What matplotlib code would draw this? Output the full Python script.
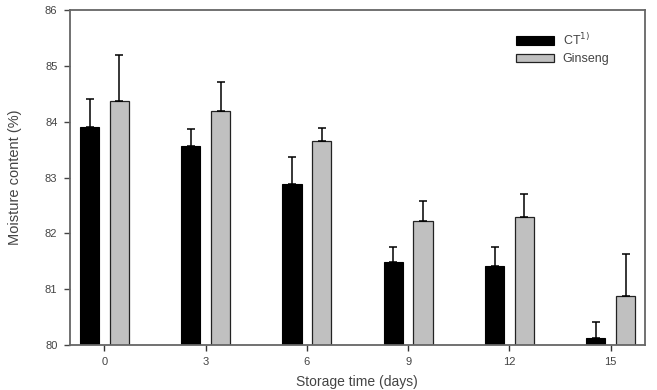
import matplotlib.pyplot as plt
import numpy as np

plt.rcParams['font.family'] = ['Liberation Sans', 'DejaVu Sans']

days = ['0', '3', '6', '9', '12', '15']
ct_mean = [83.90, 83.57, 82.88, 81.48, 81.42, 80.12]
ct_err = [0.50, 0.30, 0.48, 0.28, 0.34, 0.30]
gin_mean = [84.38, 84.20, 83.65, 82.22, 82.30, 80.87]
gin_err = [0.82, 0.52, 0.23, 0.36, 0.40, 0.76]

fig = plt.figure(figsize=(6.57, 3.9), dpi=100)
ax = fig.add_axes([0.1065, 0.1154, 0.8755, 0.8586])

x = np.arange(len(days))
w = 0.19
off = 0.147
ekw = dict(capsize=2.8, elinewidth=1.1, capthick=1.1, ecolor='black')
ax.bar(x - off, ct_mean, w, color='black', edgecolor='black', lw=0.8,
       yerr=[np.zeros(6), ct_err], error_kw=ekw, label='CT$^{1)}$')
ax.bar(x + off, gin_mean, w, color='#c0c0c0', edgecolor='#222222', lw=0.9,
       yerr=[np.zeros(6), gin_err], error_kw=ekw, label='Ginseng')

ax.set_ylim(80, 86)
ax.set_xlim(-0.34, 5.34)
ax.set_xticks(x)
ax.set_xticklabels(days)
ax.set_yticks(range(80, 87))

tc = '#444444'
for s in ax.spines.values():
    s.set_color('#666666')
    s.set_linewidth(1.3)
ax.tick_params(colors=tc, labelsize=8, length=4, width=1, direction='out', pad=5)
ax.tick_params(axis='x', color='#333333')

ax.set_ylabel('Moisture content (%)', fontsize=10.5, color=tc)
ax.yaxis.set_label_coords(-0.083, 0.5)
fig.text(0.543, 0.003, 'Storage time (days)', fontsize=10, color=tc, ha='center', va='bottom')

leg = ax.legend(loc='upper left', bbox_to_anchor=(0.776, 0.935), frameon=False, fontsize=9,
                handlelength=3.0, handleheight=0.65, labelspacing=0.45, handletextpad=0.7,
                borderpad=0, borderaxespad=0)
for t in leg.get_texts():
    t.set_color(tc)

fig.savefig('out.png', dpi=100)
